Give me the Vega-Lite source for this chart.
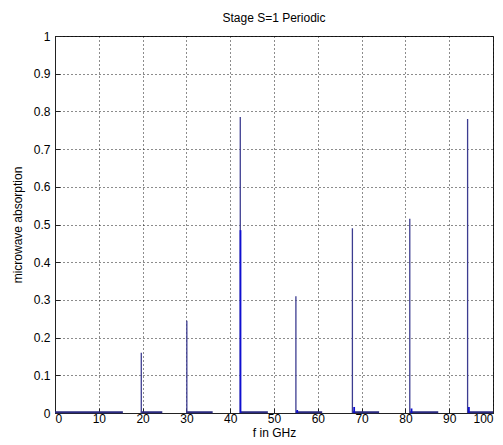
{
  "$schema": "https://vega.github.io/schema/vega-lite/v6.json",
  "width": 438,
  "height": 377,
  "autosize": {"type": "none"},
  "padding": {"left": 55, "top": 36, "right": 10, "bottom": 32},
  "background": "white",
  "title": {"text": "Stage S=1  Periodic", "font": "Liberation Sans", "fontSize": 12, "fontWeight": "normal", "color": "black", "offset": 5, "anchor": "middle"},
  "config": {
    "view": {"stroke": "#222", "strokeWidth": 1},
    "axisX": {"values": [0,10,20,30,40,50,60,70,80,90,100], "grid": true, "tickSize": -5, "labelPadding": 5, "titlePadding": 3, "format": "d"},
    "axisY": {"values": [0,0.1,0.2,0.3,0.4,0.5,0.6,0.7,0.8,0.9,1], "grid": true, "tickSize": -5, "labelPadding": 10, "titlePadding": 9, "format": "~g"},
    "axis": {"labelFont": "Liberation Sans", "labelFontSize": 12, "labelColor": "black", "titleFont": "Liberation Sans", "titleFontSize": 12, "titleFontWeight": "normal", "titleColor": "black", "domainColor": "#222", "tickColor": "#222", "gridColor": "black", "gridDash": [1, 3], "gridOpacity": 0.9}
  },
  "datasets": {
    "peaks": [
      {"f": 19.7, "a0": 0, "a": 0.16},
      {"f": 30.1, "a0": 0, "a": 0.245},
      {"f": 42.3, "a0": 0, "a": 0.785},
      {"f": 55.0, "a0": 0, "a": 0.31},
      {"f": 67.9, "a0": 0, "a": 0.49},
      {"f": 81.0, "a0": 0, "a": 0.515},
      {"f": 94.2, "a0": 0, "a": 0.78}
    ],
    "strong": [
      {"f": 42.35, "a0": 0, "a": 0.485},
      {"f": 55.3, "a0": 0, "a": 0.008},
      {"f": 68.3, "a0": 0, "a": 0.016},
      {"f": 81.4, "a0": 0, "a": 0.012},
      {"f": 94.5, "a0": 0, "a": 0.016}
    ],
    "base": [
      {"f0": 0, "f1": 15.5, "a": 0.002},
      {"f0": 19.6, "f1": 24.5, "a": 0.002},
      {"f0": 30.0, "f1": 36.0, "a": 0.002},
      {"f0": 42.3, "f1": 48.6, "a": 0.002},
      {"f0": 55.0, "f1": 61.0, "a": 0.002},
      {"f0": 67.9, "f1": 74.0, "a": 0.002},
      {"f0": 81.0, "f1": 87.5, "a": 0.002},
      {"f0": 94.2, "f1": 100, "a": 0.002}
    ]
  },
  "layer": [
    {
      "data": {"name": "base"},
      "mark": {"type": "rule", "color": "#2a2a80", "strokeWidth": 2},
      "encoding": {
        "x": {"field": "f0", "type": "quantitative", "scale": {"domain": [0, 100], "nice": false, "zero": false}, "title": "f in GHz"},
        "x2": {"field": "f1"},
        "y": {"field": "a", "type": "quantitative", "scale": {"domain": [0, 1], "nice": false}, "title": "microwave absorption"}
      }
    },
    {
      "data": {"name": "peaks"},
      "mark": {"type": "rule", "color": "#3c3c90", "strokeWidth": 1.3},
      "encoding": {
        "x": {"field": "f", "type": "quantitative", "title": "f in GHz"},
        "y": {"field": "a0", "type": "quantitative", "title": "microwave absorption"},
        "y2": {"field": "a"}
      }
    },
    {
      "data": {"name": "strong"},
      "mark": {"type": "rule", "color": "#1010d0", "strokeWidth": 1.8},
      "encoding": {
        "x": {"field": "f", "type": "quantitative", "title": "f in GHz"},
        "y": {"field": "a0", "type": "quantitative", "title": "microwave absorption"},
        "y2": {"field": "a"}
      }
    }
  ]
}
